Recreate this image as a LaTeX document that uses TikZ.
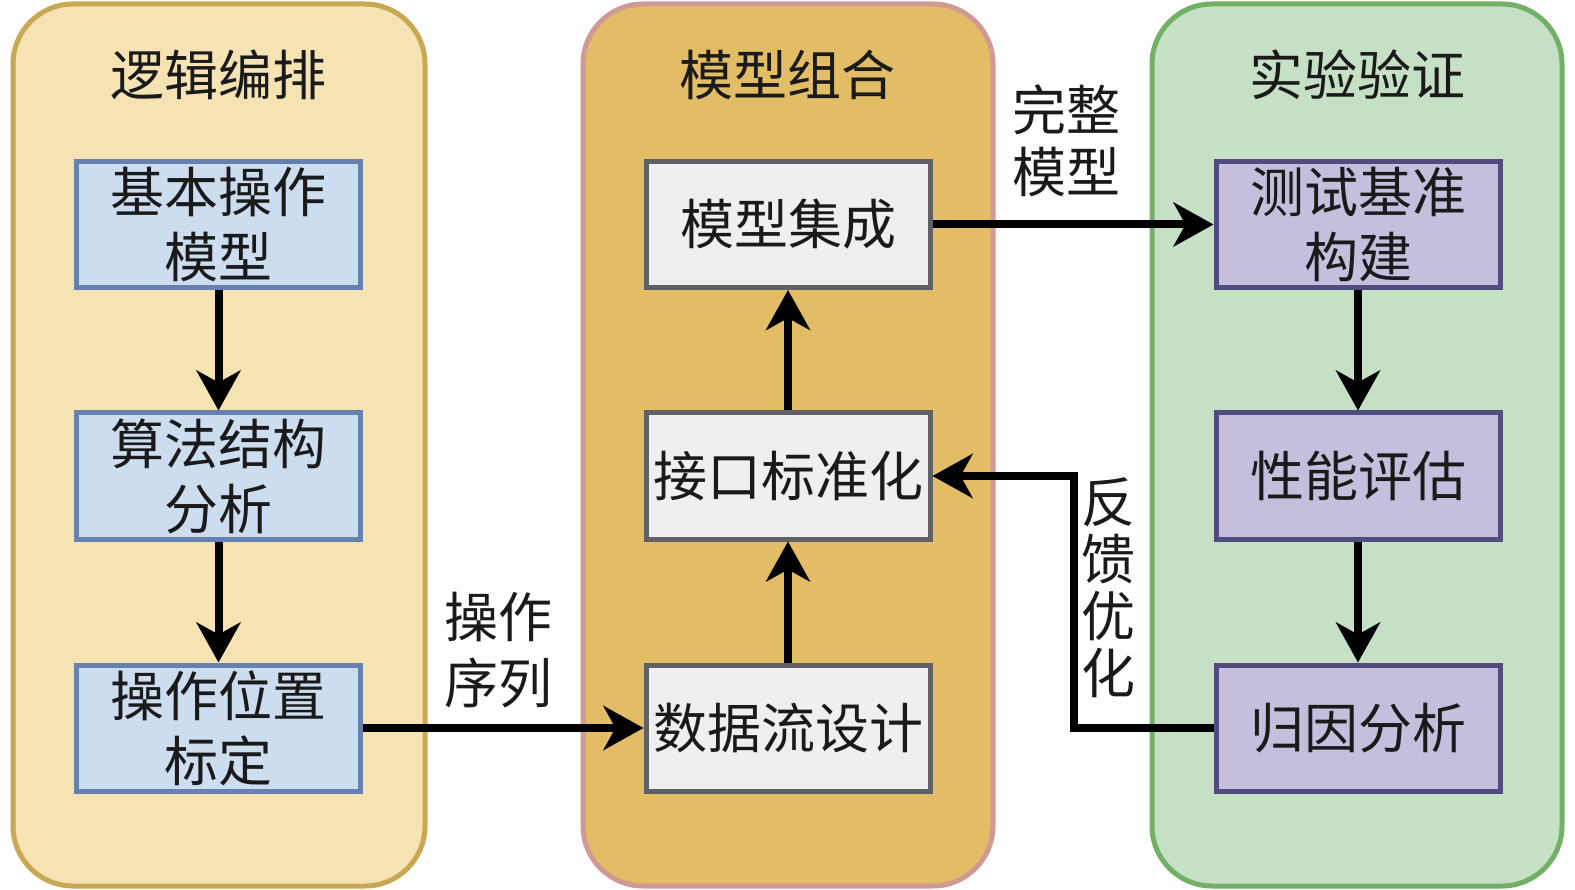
\documentclass[tikz,border=0pt]{standalone}
\usepackage{fontspec}
\setmainfont{Noto Sans CJK SC}
\usetikzlibrary{arrows.meta}
\definecolor{pLfill}{HTML}{F5E3B3}
\definecolor{pLdraw}{HTML}{C8A850}
\definecolor{pMfill}{HTML}{E2BD65}
\definecolor{pMdraw}{HTML}{D09A94}
\definecolor{pRfill}{HTML}{C5E0C5}
\definecolor{pRdraw}{HTML}{72B066}
\definecolor{bLfill}{HTML}{CCDDF0}
\definecolor{bLdraw}{HTML}{6680B0}
\definecolor{bMfill}{HTML}{EFEFEF}
\definecolor{bMdraw}{HTML}{5F6166}
\definecolor{bRfill}{HTML}{C5BEDC}
\definecolor{bRdraw}{HTML}{514C7E}
\definecolor{txt}{HTML}{1A1A1A}
\tikzset{
  panel/.style={line width=5pt, rounded corners=60pt},
  box/.style={rectangle, line width=5pt, minimum width=284pt, minimum height=126pt,
    inner sep=0pt, align=center, text=txt, font=\fontsize{54}{65}\selectfont},
  lbox/.style={box, fill=bLfill, draw=bLdraw},
  mbox/.style={box, fill=bMfill, draw=bMdraw},
  rbox/.style={box, fill=bRfill, draw=bRdraw},
  ttl/.style={text=txt, font=\fontsize{54}{65}\selectfont, inner sep=0pt},
  lbl/.style={text=txt, align=center, inner sep=0pt},
  arr/.style={line width=8pt, -{Stealth[length=40pt,width=44pt,inset=12pt]}},
}
\begin{document}
\begin{tikzpicture}[x=1pt,y=-1pt]
\useasboundingbox (0,0) rectangle (1575,890);
\fill[white] (0,0) rectangle (1575,890);
% panels
\draw[panel, fill=pLfill, draw=pLdraw] (13,4) rectangle (425,886);
\draw[panel, fill=pMfill, draw=pMdraw] (583,4) rectangle (993,886);
\draw[panel, fill=pRfill, draw=pRdraw] (1152,4) rectangle (1562,886);
% titles
\node[ttl] (t1) at (218,75) {逻辑编排};
\node[ttl] (t2) at (787,75) {模型组合};
\node[ttl] (t3) at (1357,75) {实验验证};
% boxes
\node[lbox] (b1) at (218.5,224.5) {基本操作\\模型};
\node[lbox] (b2) at (218.5,476) {算法结构\\分析};
\node[lbox] (b3) at (218.5,728) {操作位置\\标定};
\node[mbox] (m1) at (788,224.5) {模型集成};
\node[mbox] (m2) at (788,476) {接口标准化};
\node[mbox] (m3) at (788,728) {数据流设计};
\node[rbox] (r1) at (1358,224.5) {测试基准\\构建};
\node[rbox] (r2) at (1358,476) {性能评估};
\node[rbox] (r3) at (1358,728) {归因分析};
% labels
\node[lbl, font=\fontsize{54}{66}\selectfont] (l1) at (498,650) {操作\\序列};
\node[lbl, font=\fontsize{54}{62}\selectfont] (l2) at (1066,141) {完整\\模型};
\node[lbl, font=\fontsize{54}{57}\selectfont] (l3) at (1108,588) {反\\馈\\优\\化};
% arrows
\draw[arr] (b1.south) -- (b2.north);
\draw[arr] (b2.south) -- (b3.north);
\draw[arr] (m3.north) -- (m2.south);
\draw[arr] (m2.north) -- (m1.south);
\draw[arr] (r1.south) -- (r2.north);
\draw[arr] (r2.south) -- (r3.north);
\draw[arr] (b3.east) -- (m3.west);
\draw[arr] (m1.east) -- (r1.west);
\coordinate (fb) at (1074,728);
\draw[arr] (r3.west) -- (fb) |- (m2.east);
\end{tikzpicture}
\end{document}
